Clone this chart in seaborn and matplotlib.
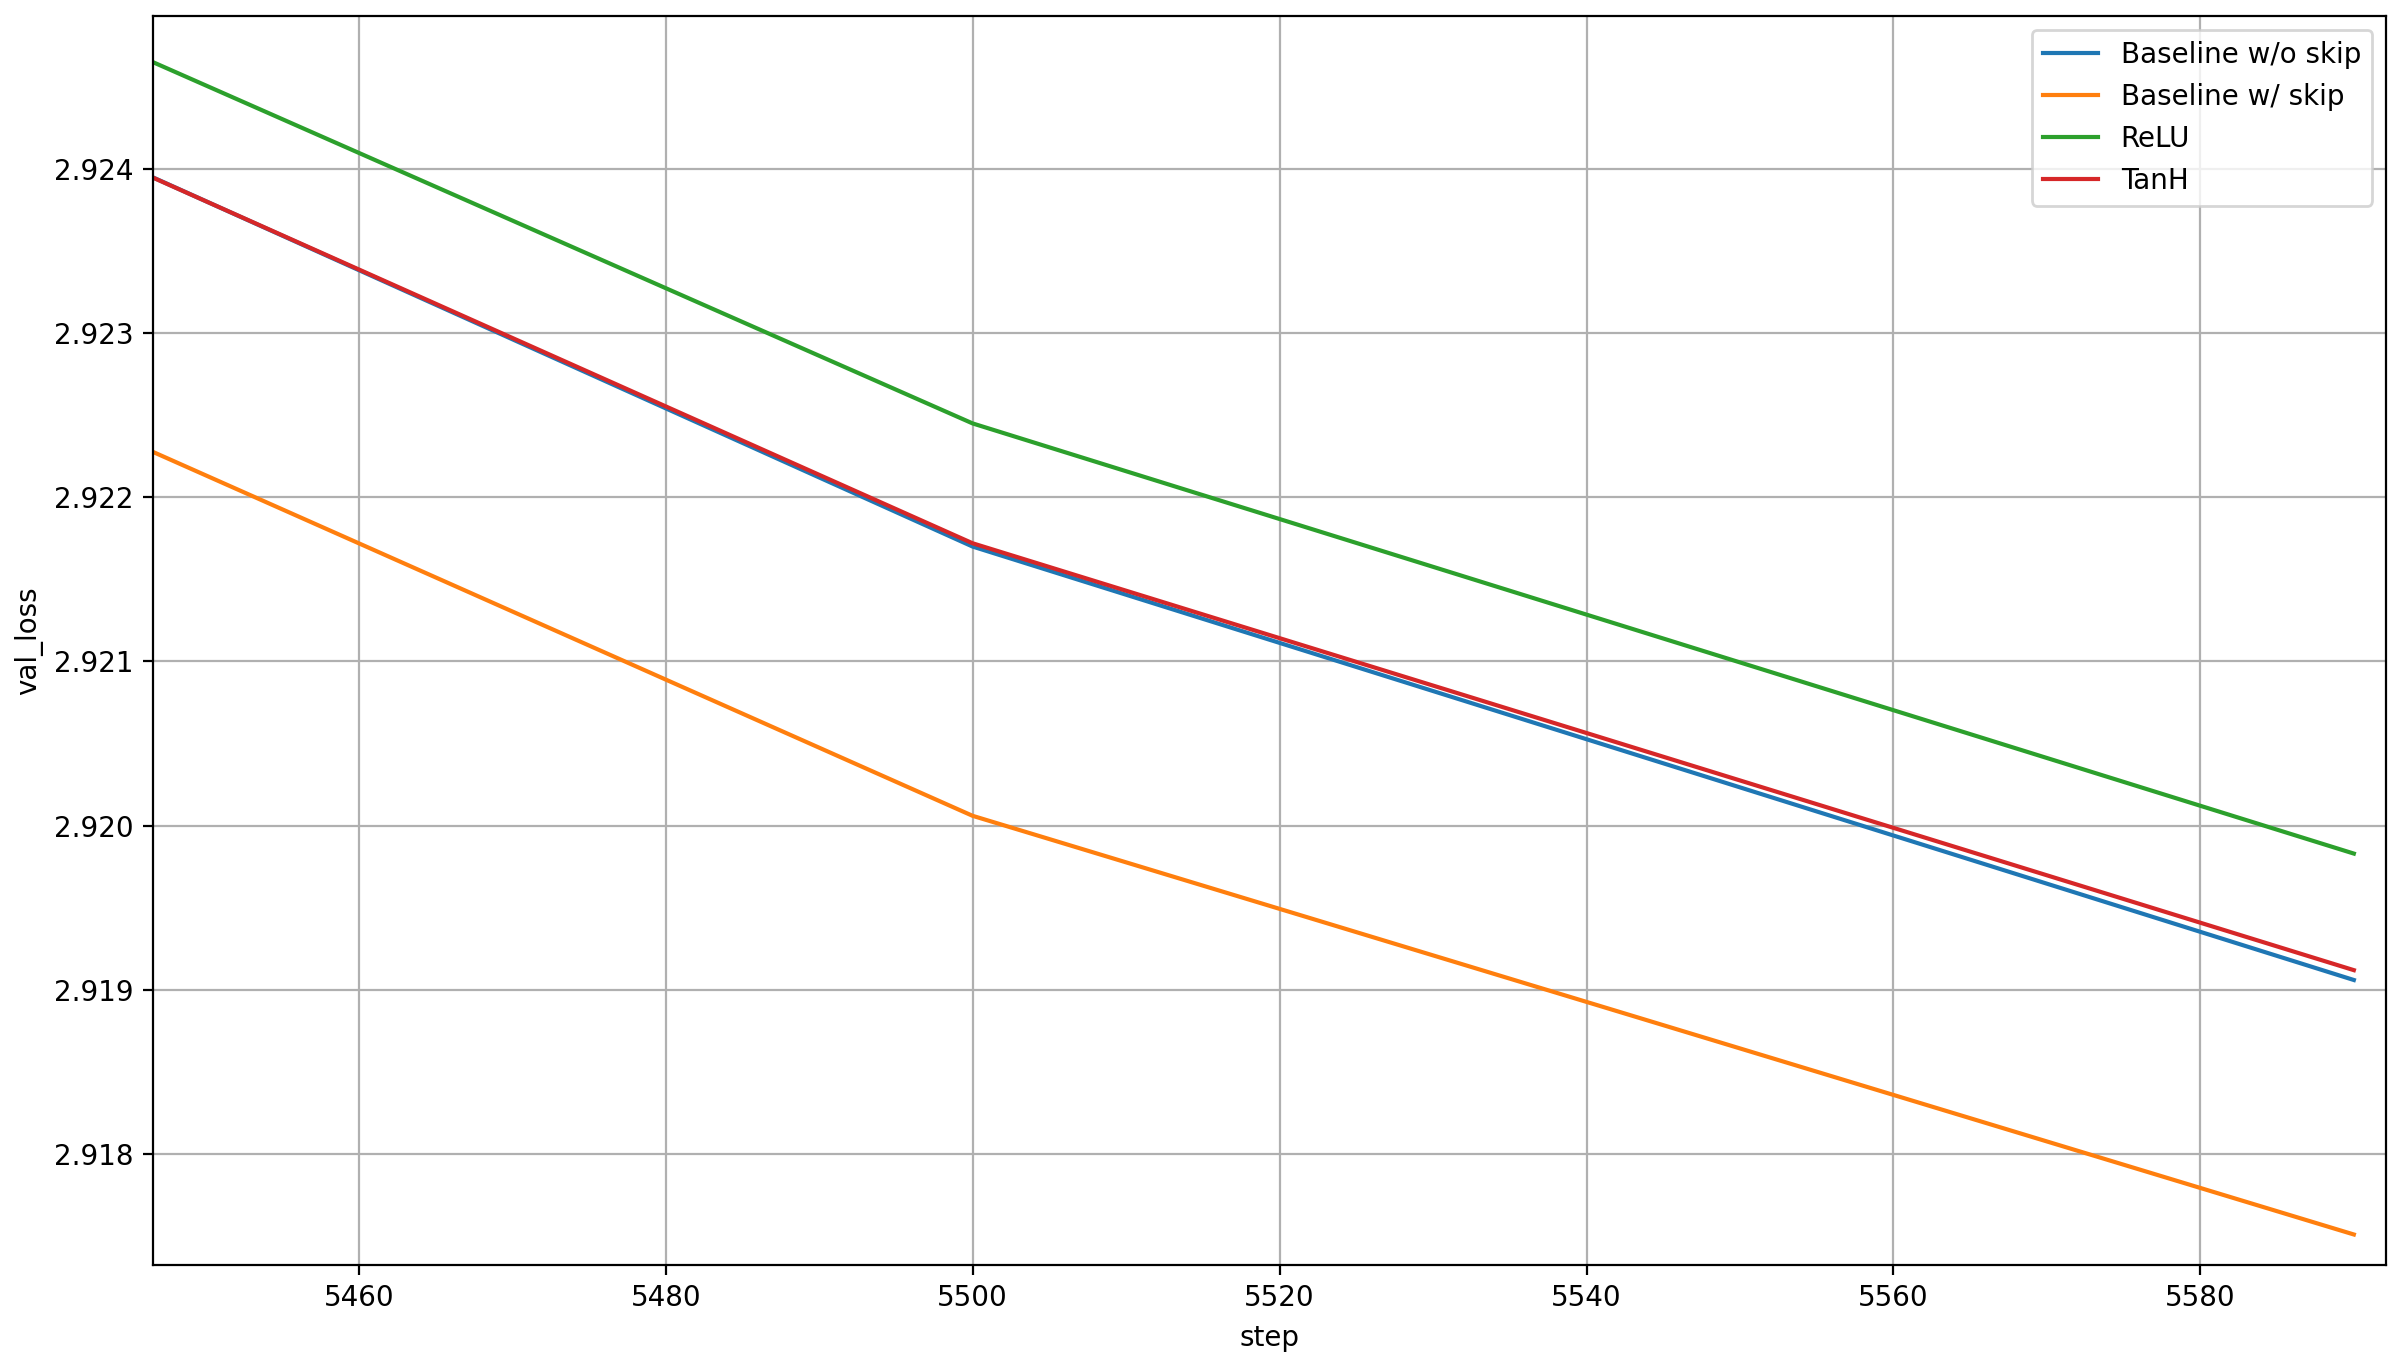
import pandas as pd
import seaborn as sns
import matplotlib.pyplot as plt

# Steps at which validation was logged
steps = [5400, 5500, 5590]

# val_loss per run
baseline_no_skip = [2.92591, 2.92170, 2.91906]
baseline_skip = [2.92421, 2.92006, 2.91751]
relu = [2.92657, 2.92245, 2.91983]
tanh = [2.92589, 2.92172, 2.91912]

runs = ["Baseline w/o skip", "Baseline w/ skip", "ReLU", "TanH"]
cores = ["#1f77b4", "#ff7f0e", "#2ca02c", "#d62728"]

# Montar tabela longa
df = pd.concat([
    pd.DataFrame({"step": steps, "val_loss": vals, "run": nome})
    for nome, vals in zip(runs, [baseline_no_skip, baseline_skip, relu, tanh])
], ignore_index=True)

fig, ax = plt.subplots(figsize=(12, 6.81), dpi=200)

sns.lineplot(
    data=df,
    x="step",
    y="val_loss",
    hue="run",
    hue_order=runs,
    palette=cores,
    linewidth=1.5,
    ax=ax,
)

ax.set_xlim(5446.6, 5592.1)
ax.set_ylim(2.917324, 2.924932)
ax.grid(True)
ax.legend(loc="upper right")

plt.subplots_adjust(left=0.0638, right=0.9942, top=0.9883, bottom=0.0712)
plt.savefig("out.png", dpi=200)
